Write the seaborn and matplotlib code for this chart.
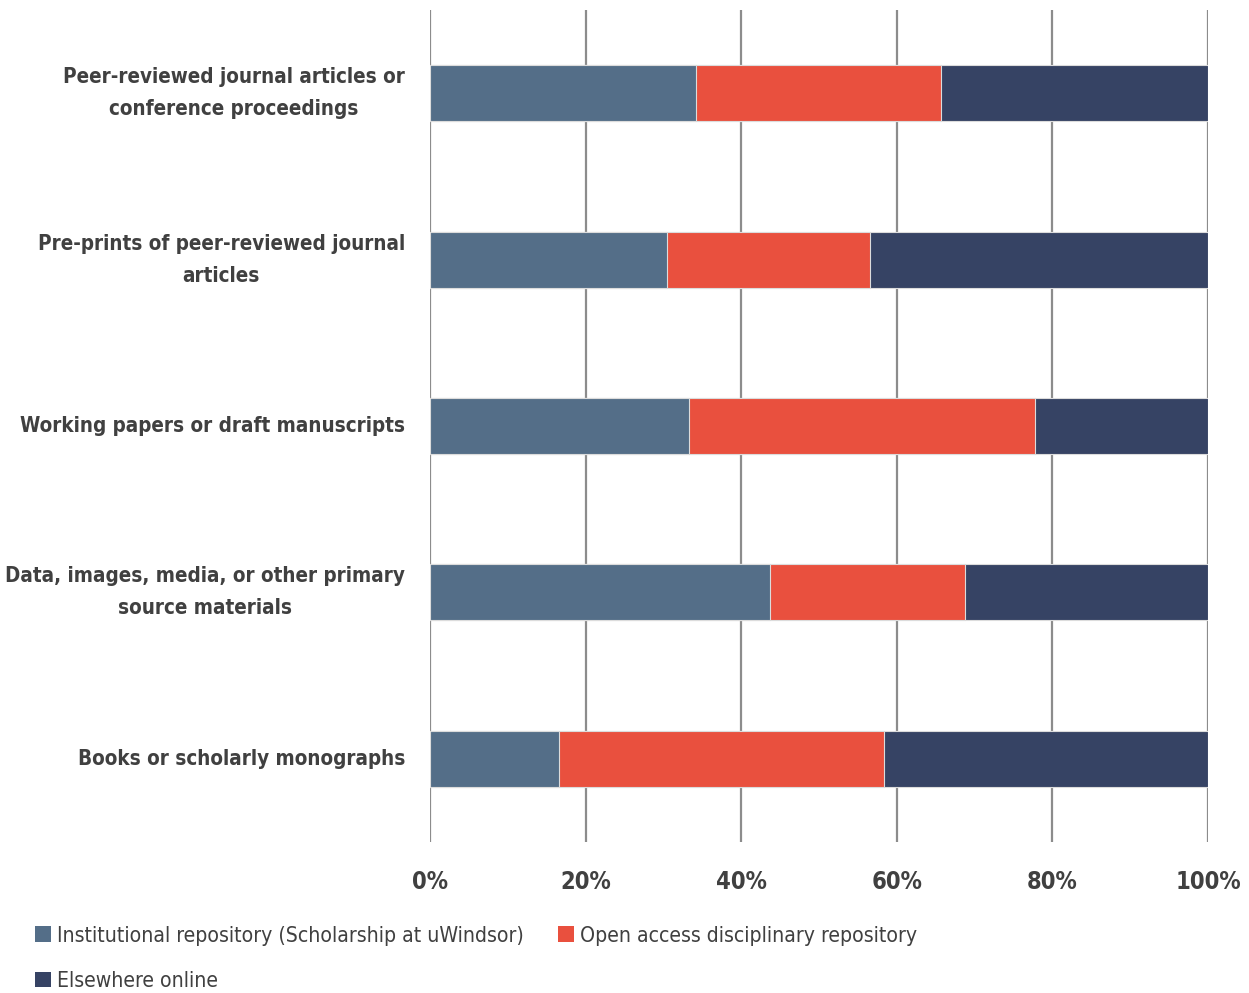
import matplotlib
matplotlib.use("Agg")
import matplotlib.pyplot as plt
import matplotlib.transforms as mtransforms
from matplotlib.patches import Patch
import seaborn as sns
import pandas as pd

categories = [
    "Peer-reviewed journal articles or\nconference proceedings",
    "Pre-prints of peer-reviewed journal\narticles",
    "Working papers or draft manuscripts",
    "Data, images, media, or other primary\nsource materials",
    "Books or scholarly monographs",
]
institutional = [34.2, 30.4, 33.3, 43.7, 16.6]
open_access = [31.5, 26.1, 44.5, 25.1, 41.7]
elsewhere = [34.3, 43.5, 22.2, 31.2, 41.7]

series_names = [
    "Institutional repository (Scholarship at uWindsor)",
    "Open access disciplinary repository",
    "Elsewhere online",
]
colors = ["#546e88", "#e9503e", "#364364"]
tick_values = [0, 20, 40, 60, 80, 100]
tick_labels = ["0%", "20%", "40%", "60%", "80%", "100%"]

sns.set_style("white")
plt.rcParams["font.family"] = ["DejaVu Sans"]
plt.rcParams["font.stretch"] = "condensed"
text_color = "#404040"

df = pd.DataFrame({
    "category": categories,
    "inst": institutional,
    "oa": open_access,
    "else": elsewhere,
})
df["cum1"] = df["inst"]
df["cum2"] = df["inst"] + df["oa"]
df["cum3"] = df["cum2"] + df["else"]

fig = plt.figure(figsize=(12.49, 9.93), dpi=100)
ax = fig.add_axes([430 / 1249, 1 - 842 / 993, (1208 - 430) / 1249, 832 / 993])

# vertical grid lines behind the bars
for v in tick_values:
    ax.axvline(v, color="#8c8c8c", lw=1.6, zorder=0)

# stacked bars drawn as layered cumulative totals
for col, color in zip(["cum3", "cum2", "cum1"], colors[::-1]):
    sns.barplot(data=df, x=col, y="category", orient="h", color=color,
                width=0.336, edgecolor="#dcdcdc", linewidth=0.8,
                saturation=1, ax=ax, zorder=2)

ax.set_xlim(0, 100)
ax.set_ylim(4.5, -0.5)
ax.set_xticks(tick_values)
ax.set_xticklabels(tick_labels, fontsize=17, fontweight="bold", color=text_color)
ax.set_yticks(range(len(categories)))
ax.set_yticklabels([])

# category names, right-aligned beside each bar and centred on it
label_tr = mtransforms.offset_copy(ax.get_yaxis_transform(), fig=fig,
                                   x=-25, y=0, units="dots")
for i, name in enumerate(categories):
    ax.text(0, i, name, transform=label_tr, ha="right", va="center",
            multialignment="center", fontsize=14.8, fontweight="bold",
            color=text_color, linespacing=1.75)

ax.tick_params(axis="both", length=0)
ax.tick_params(axis="x", pad=20)
ax.set_xlabel("")
ax.set_ylabel("")
for s in ax.spines.values():
    s.set_visible(False)

handles = [Patch(facecolor=c, edgecolor="none") for c in colors]
order = [0, 2, 1]
fig.legend([handles[i] for i in order], [series_names[i] for i in order],
           loc="lower left", bbox_to_anchor=(16 / 1249, -0.017), ncol=2,
           frameon=False, fontsize=15.2, labelcolor=text_color,
           handlelength=0.75, handleheight=0.75, handletextpad=0.3,
           columnspacing=1.6, labelspacing=1.2)

fig.savefig("out.png", dpi=100)
